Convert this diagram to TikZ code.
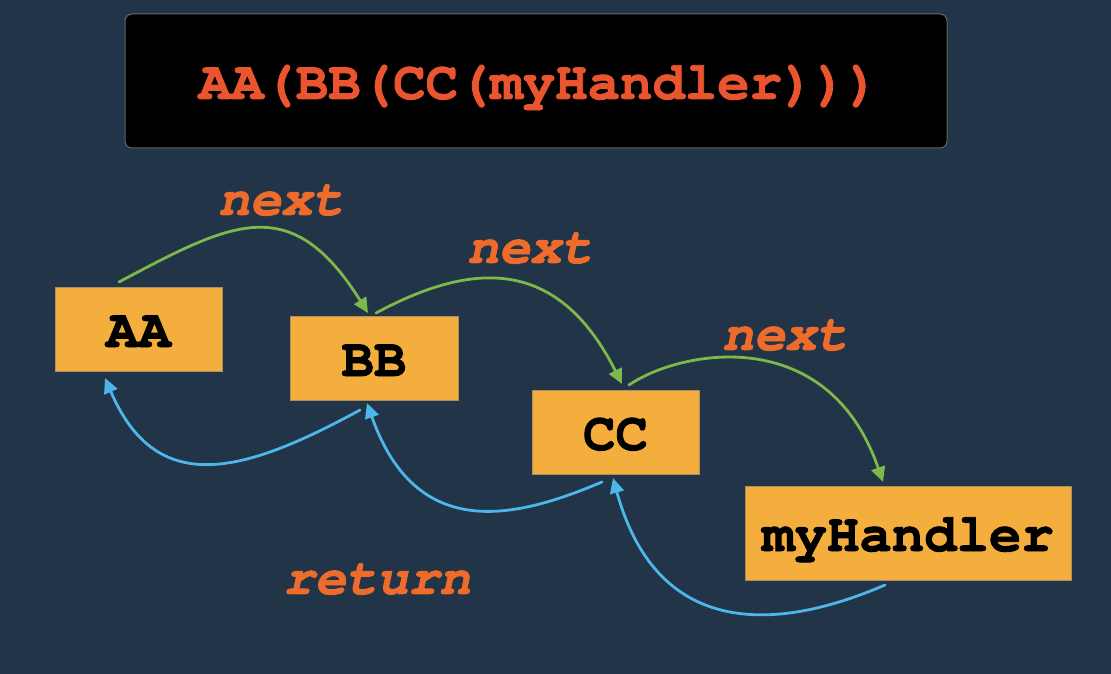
\documentclass[tikz,border=0pt]{standalone}
\usepackage{fontspec}
\setmonofont{texgyrecursor}[Extension=.otf, UprightFont=*-regular,
  BoldFont=*-bold, ItalicFont=*-italic, BoldItalicFont=*-bolditalic,
  BoldFeatures={FakeBold=1.6}, BoldItalicFeatures={FakeBold=1.6}]
\usetikzlibrary{arrows.meta}
\definecolor{bg}{HTML}{213448}
\definecolor{boxfill}{HTML}{F4AE3D}
\definecolor{boxline}{HTML}{A89060}
\definecolor{titlered}{HTML}{EA5530}
\definecolor{labelorange}{HTML}{EE6C2B}
\definecolor{nextgreen}{HTML}{7DB84A}
\definecolor{retblue}{HTML}{4DB6EA}
\begin{document}
\begin{tikzpicture}[x=1pt,y=-1pt,
  fnbox/.style={draw=boxline, line width=0.8pt, fill=boxfill, inner sep=0pt,
    minimum height=84pt, text height=36pt, text depth=0pt,
    font=\ttfamily\bfseries\fontsize{54}{60}\selectfont, text=black},
  lbl/.style={inner sep=0pt, text=labelorange,
    font=\ttfamily\bfseries\itshape\fontsize{52}{58}\selectfont},
  nextarrow/.style={draw=nextgreen, line width=2.8pt, line cap=round,
    -{Triangle[length=15pt,width=14pt]}},
  retarrow/.style={draw=retblue, line width=2.8pt, line cap=round,
    -{Triangle[length=15pt,width=14pt]}}]
  % canvas
  \fill[bg] (0,0) rectangle (1111,674);
  \useasboundingbox (0,0) rectangle (1111,674);

  % composed call at the top
  \node[draw=black!60!white, line width=1pt, fill=black, rounded corners=7pt,
    minimum width=822pt, minimum height=134pt, inner sep=0pt] (title) at (536,81) {};
  \node[anchor=base, inner sep=0pt, text=titlered,
    font=\ttfamily\bfseries\fontsize{54}{60}\selectfont] (call) at (539,99)
    {AA(BB(CC(myHandler)))};

  % middleware boxes
  \node[fnbox, minimum width=167pt] (aa) at (138.5,329) {AA};
  \node[fnbox, minimum width=168pt] (bb) at (374,358) {BB};
  \node[fnbox, minimum width=167pt] (cc) at (615.5,432) {CC};
  \node[fnbox, minimum width=326pt, minimum height=94pt] (mh) at (908,533) {myHandler};

  % arrow anchor points
  \coordinate (aaTop) at (119,282);
  \coordinate (bbIn) at (368,313);
  \coordinate (bbOut) at (376,313);
  \coordinate (ccIn) at (622,384);
  \coordinate (ccOut) at (629,385);
  \coordinate (mhIn) at (883,482);
  \coordinate (mhOut) at (885,585);
  \coordinate (ccRet) at (613,478);
  \coordinate (ccBack) at (602,482);
  \coordinate (bbRet) at (367,403);
  \coordinate (bbBack) at (360,410);
  \coordinate (aaRet) at (105,378);

  % calls going forward
  \draw[nextarrow] (aaTop) .. controls (232,222) and (291,190) .. (bbIn);
  \draw[nextarrow] (bbOut) .. controls (471,262) and (557,255) .. (ccIn);
  \draw[nextarrow] (ccOut) .. controls (680,350) and (828,322) .. (mhIn);

  % values coming back
  \draw[retarrow] (mhOut) .. controls (815,615) and (664,663) .. (ccRet);
  \draw[retarrow] (ccBack) .. controls (519,517) and (417,545) .. (bbRet);
  \draw[retarrow] (bbBack) .. controls (241,475) and (156,497) .. (aaRet);

  % labels
  \node[lbl] (n1) at (281,200) {next};
  \node[lbl] (n2) at (530,248) {next};
  \node[lbl] (n3) at (785,335) {next};
  \node[lbl] (ret) at (377,579) {return};
\end{tikzpicture}
\end{document}
